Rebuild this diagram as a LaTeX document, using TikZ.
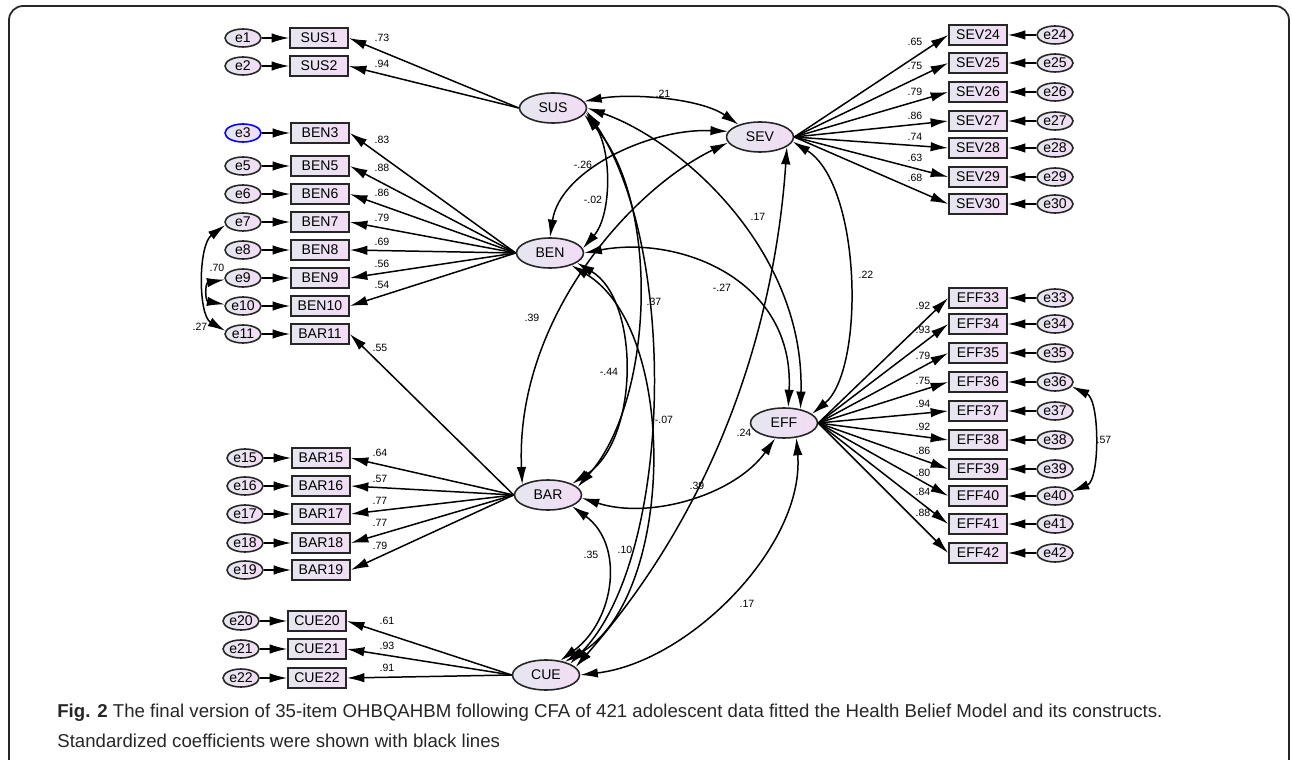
\documentclass[tikz,border=0pt]{standalone}
\usepackage{fontspec}
\setmainfont{Liberation Sans}
\usepackage{color}
\usepackage{tikz}
\usetikzlibrary{shapes.geometric,positioning,arrows.meta}
\definecolor{amosl}{RGB}{229,231,239}
\definecolor{amosr}{RGB}{242,220,244}
\tikzset{
 lat/.style
  = {ellipse, draw=black!85, line width=0.9pt, left color=amosl, right color=amosr,
     inner sep=0pt, minimum width=1.34cm, minimum height=0.6cm, font=\fontsize{8}{9}\selectfont},
 obs/.style
  = {rectangle, draw=black!85, line width=0.9pt, left color=amosl, right color=amosr,
     inner sep=0pt, minimum width=1.16cm, minimum height=0.4cm, font=\fontsize{8}{9}\selectfont},
 err/.style
  = {ellipse, draw=black!85, line width=0.9pt, left color=amosl, right color=amosr,
     inner sep=0pt, minimum width=0.72cm, minimum height=0.36cm, font=\fontsize{8}{9}\selectfont},
 l/.style
  = {draw, line width=0.85pt, ->},
 ll/.style
  = {draw, line width=0.85pt, <->},
 co/.style
  = {font=\fontsize{6}{7}\selectfont, inner sep=0pt},
}

\begin{document}
\begin{tikzpicture}[x=0.02cm, y=-0.02cm, >={Latex[length=10pt,width=5.4pt]}]
\useasboundingbox (0,0) rectangle (1292,760);

% Frame
\draw[line width=1pt, rounded corners=8pt, black!85] (9,760) -- (9,6) -- (1289,6) -- (1289,760);

% Latent factors
\node[lat] (SUS) at (553,108) {SUS};
\node[lat] (SEV) at (760,137) {SEV};
\node[lat] (BEN) at (550,253) {BEN};
\node[lat] (EFF) at (784,423) {EFF};
\node[lat] (BAR) at (548,495) {BAR};
\node[lat] (CUE) at (546,675) {CUE};

% SUS items
\foreach \er/\ob/\yy/\val/\ly in {e1/SUS1/38/.73/38, e2/SUS2/66/.94/64} {
  \node[err] (\er) at (243,\yy) {\er};
  \node[obs] (\ob) at (319,\yy) {\ob};
  \draw[l] (\er) -- (\ob);
  \draw[l] (SUS.west) -- (\ob.east);
  \node[co] (c\ob) at (382,\ly) {\val};
}

% BEN items
\foreach \er/\ob/\yy/\val/\ly/\col in {e3/BEN3/133/.83/140/blue, e5/BEN5/166/.88/168/black!85,
    e6/BEN6/194/.86/193/black!85, e7/BEN7/222/.79/218/black!85, e8/BEN8/250/.69/242/black!85,
    e9/BEN9/278/.56/264/black!85, e10/BEN10/306/.54/285/black!85} {
  \node[err, draw=\col] (\er) at (243,\yy) {\er};
  \node[obs] (\ob) at (320,\yy) {\ob};
  \draw[l] (\er) -- (\ob);
  \draw[l] (BEN.west) -- (\ob.east);
  \node[co] (c\ob) at (382,\ly) {\val};
}

% BAR items
\node[err] (e11) at (243,334) {e11};
\node[obs] (BAR11) at (320,334) {BAR11};
\draw[l] (e11) -- (BAR11);
\draw[l] (BAR.west) -- (BAR11.east);
\node[co] (cBAR11) at (380,348) {.55};
\foreach \er/\ob/\yy/\val/\ly in {e15/BAR15/458/.64/453, e16/BAR16/486/.57/479,
    e17/BAR17/514/.77/501, e18/BAR18/543/.77/523, e19/BAR19/570/.79/546} {
  \node[err] (\er) at (245,\yy) {\er};
  \node[obs] (\ob) at (321,\yy) {\ob};
  \draw[l] (\er) -- (\ob);
  \draw[l] (BAR.west) -- (\ob.east);
  \node[co] (c\ob) at (380,\ly) {\val};
}

% CUE items
\foreach \er/\ob/\yy/\val/\ly in {e20/CUE20/621/.61/621, e21/CUE21/649/.93/646, e22/CUE22/678/.91/668} {
  \node[err] (\er) at (241,\yy) {\er};
  \node[obs] (\ob) at (317,\yy) {\ob};
  \draw[l] (\er) -- (\ob);
  \draw[l] (CUE.west) -- (\ob.east);
  \node[co] (c\ob) at (387,\ly) {\val};
}

% SEV items
\foreach \er/\ob/\yy/\val/\ly in {e24/SEV24/35/.65/42, e25/SEV25/63/.75/66, e26/SEV26/92/.79/92,
    e27/SEV27/121/.86/116, e28/SEV28/148/.74/137, e29/SEV29/177/.63/158, e30/SEV30/204/.68/178} {
  \node[err] (\er) at (1055,\yy) {\er};
  \node[obs] (\ob) at (978,\yy) {\ob};
  \draw[l] (\er) -- (\ob);
  \draw[l] (SEV.east) -- (\ob.west);
  \node[co] (c\ob) at (915,\ly) {\val};
}

% EFF items
\foreach \er/\ob/\yy/\val/\ly in {e33/EFF33/298/.92/306, e34/EFF34/324/.93/330, e35/EFF35/353/.79/356,
    e36/EFF36/382/.75/381, e37/EFF37/411/.94/404, e38/EFF38/440/.92/427, e39/EFF39/469/.86/451,
    e40/EFF40/496/.80/473, e41/EFF41/524/.84/492, e42/EFF42/553/.88/513} {
  \node[err] (\er) at (1055,\yy) {\er};
  \node[obs] (\ob) at (978,\yy) {\ob};
  \draw[l] (\er) -- (\ob);
  \draw[l] (EFF.east) -- (\ob.west);
  \node[co] (c\ob) at (923,\ly) {\val};
}

% Error covariances
\draw[ll] (e7.190) .. controls (198,245) and (198,315) .. (e11.170);
\node[co] (c711) at (200,327) {.27};
\draw[ll] (e9.185) .. controls (205,283) and (205,301) .. (e10.175);
\node[co] (c910) at (217,268) {.70};
\draw[ll] (e36.-15) .. controls (1100,400) and (1100,480) .. (e40.15);
\node[co] (c3640) at (1104,440) {.57};

% Factor covariances
\draw[ll] (SUS.12) .. controls (630,93) and (700,98) .. (SEV.150);
\node[co] (cSUSSEV) at (663,94) {.21};
\draw[ll] (SUS.-8) .. controls (612,150) and (612,215) .. (BEN.8);
\node[co] (cSUSBEN) at (593,200) {-.02};
\draw[ll] (SUS.-12) .. controls (660,200) and (655,400) .. (BAR.15);
\node[co] (cSUSBAR) at (654,302) {.37};
\draw[ll] (SUS.-5) .. controls (680,250) and (672,560) .. (CUE.25);
\node[co] (cSUSCUE) at (625,550) {.10};
\draw[ll] (SUS.0) .. controls (680,140) and (805,250) .. (EFF.40);
\node[co] (cSUSEFF) at (758,217) {.17};
\draw[ll] (SEV.170) .. controls (650,128) and (560,170) .. (BEN.north);
\node[co] (cSEVBEN) at (583,165) {-.26};
\draw[ll] (SEV.190) .. controls (630,190) and (515,320) .. (BAR.158);
\node[co] (cSEVBAR) at (532,318) {.39};
\draw[ll] (SEV.-20) .. controls (778,280) and (740,480) .. (CUE.15);
\node[co] (cSEVCUE) at (744,433) {.24};
\draw[ll] (SEV.-8) .. controls (862,185) and (865,370) .. (EFF.18);
\node[co] (cSEVEFF) at (866,275) {.22};
\draw[ll] (BEN.-20) .. controls (640,300) and (640,440) .. (BAR.25);
\node[co] (cBENBAR) at (609,372) {-.44};
\draw[ll] (BEN.-30) .. controls (680,330) and (675,600) .. (CUE.35);
\node[co] (cBENCUE) at (664,420) {-.07};
\draw[ll] (BEN.0) .. controls (680,235) and (795,280) .. (EFF.75);
\node[co] (cBENEFF) at (722,288) {-.27};
\draw[ll] (BAR.-25) .. controls (625,545) and (615,620) .. (CUE.45);
\node[co] (cBARCUE) at (591,555) {.35};
\draw[ll] (BAR.-5) .. controls (650,520) and (735,495) .. (EFF.-120);
\node[co] (cBAREFF) at (697,486) {.39};
\draw[ll] (CUE.0) .. controls (690,662) and (805,545) .. (EFF.-50);
\node[co] (cCUEEFF) at (747,604) {.17};

% Caption
\node[anchor=west, inner sep=0pt, font=\fontsize{10.6}{12}\selectfont, text=black!85] (cap1) at (57,713)
  {\textbf{Fig. 2} The final version of 35-item OHBQAHBM following CFA of 421 adolescent data fitted the Health Belief Model and its constructs.};
\node[anchor=west, inner sep=0pt, font=\fontsize{10.6}{12}\selectfont, text=black!85] (cap2) at (57,741)
  {Standardized coefficients were shown with black lines};

\end{tikzpicture}
\end{document}
